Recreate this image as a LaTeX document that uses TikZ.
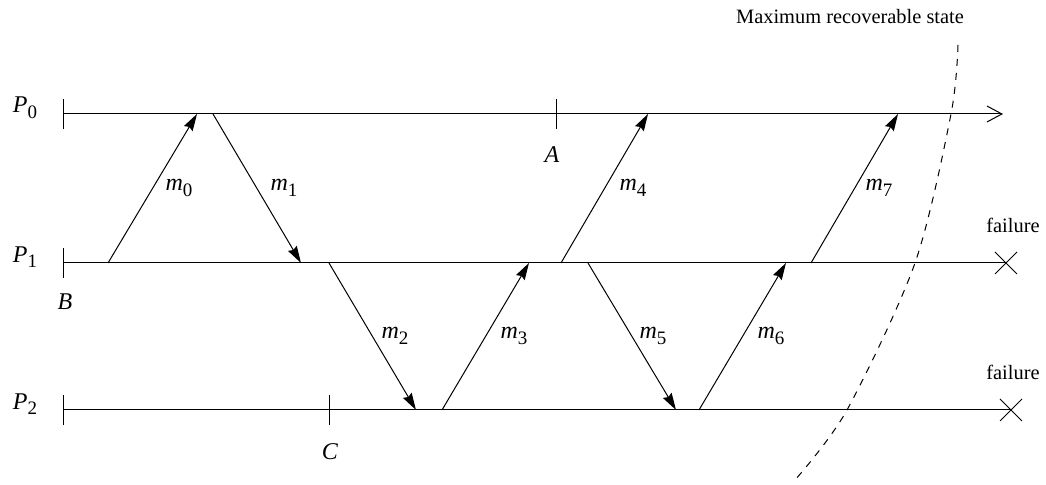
\documentclass[tikz,border=0pt]{standalone}
\usepackage{fontspec}
\setmainfont{Liberation Serif}
\usetikzlibrary{arrows.meta}
\newcommand\lsub[1]{\raisebox{-2.8pt}{\fontsize{9.5}{9.5}\selectfont #1}}
\newcommand\mlab[1]{\textit{m}\lsub{#1}}
\newcommand\plab[1]{\textit{P}\lsub{#1}}
\begin{document}
\begin{tikzpicture}[x=0.5pt,y=-0.5pt,
  line width=0.5pt,
  msgarrow/.style={draw,-{Stealth[length=8.5pt,width=5pt,inset=1pt]}},
  mathlab/.style={inner sep=0pt,font=\fontsize{12}{12}\selectfont},
  txtlab/.style={inner sep=0pt,font=\fontsize{10.2}{12}\selectfont},
  tickmark/.style={draw}]
\useasboundingbox (0,0) rectangle (1046,485);
% process lines
\coordinate (p0s) at (63,114); \coordinate (p0e) at (1003,114);
\coordinate (p1s) at (63,263); \coordinate (p1e) at (1006,263);
\coordinate (p2s) at (63,410); \coordinate (p2e) at (1011,410);
\draw[-{Straight Barb[length=7.5pt,width=8pt]}] (p0s) -- (p0e);
\draw (p1s) -- (p1e);
\draw (p2s) -- (p2e);
% start ticks
\foreach \c in {p0s,p1s,p2s}{
  \draw[tickmark] ([yshift=7.5pt]\c) -- ([yshift=-7.5pt]\c);
}
% checkpoint ticks
\coordinate (tA) at (556,114);
\coordinate (tC) at (329,410);
\draw[tickmark] ([yshift=7.5pt]tA) -- ([yshift=-7.5pt]tA);
\draw[tickmark] ([yshift=7.5pt]tC) -- ([yshift=-7.5pt]tC);
% failure crosses
\foreach \c in {p1e,p2e}{
  \draw ([shift={(-11,-11)}]\c) -- ([shift={(11,11)}]\c);
  \draw ([shift={(-11,11)}]\c) -- ([shift={(11,-11)}]\c);
}
% messages
\coordinate (m0s) at (108,263); \coordinate (m0e) at (197,114);
\coordinate (m1s) at (213,114); \coordinate (m1e) at (301,263);
\coordinate (m2s) at (329,263); \coordinate (m2e) at (416,410);
\coordinate (m3s) at (442,410); \coordinate (m3e) at (529,263);
\coordinate (m4s) at (561,263); \coordinate (m4e) at (648,114);
\coordinate (m5s) at (588,263); \coordinate (m5e) at (676,410);
\coordinate (m6s) at (699,410); \coordinate (m6e) at (786,263);
\coordinate (m7s) at (811,263); \coordinate (m7e) at (898,114);
\foreach \i in {0,...,7}{
  \draw[msgarrow] (m\i s) -- (m\i e);
}
% message labels
\node[mathlab] (lm0) at (179,188) {\mlab{0}};
\node[mathlab] (lm1) at (284,188) {\mlab{1}};
\node[mathlab] (lm2) at (395,336) {\mlab{2}};
\node[mathlab] (lm3) at (514,336) {\mlab{3}};
\node[mathlab] (lm4) at (633,188) {\mlab{4}};
\node[mathlab] (lm5) at (653,336) {\mlab{5}};
\node[mathlab] (lm6) at (771,336) {\mlab{6}};
\node[mathlab] (lm7) at (879,188) {\mlab{7}};
% process labels
\node[mathlab] (lp0) at (25,108) {\plab{0}};
\node[mathlab] (lp1) at (25,257) {\plab{1}};
\node[mathlab] (lp2) at (25,404) {\plab{2}};
% checkpoint labels
\node[mathlab] (lA) at (552,155) {\textit{A}};
\node[mathlab] (lB) at (65,302) {\textit{B}};
\node[mathlab] (lC) at (330,452) {\textit{C}};
% text labels
\node[txtlab] (f1) at (1013,225) {failure};
\node[txtlab] (f2) at (1013,372) {failure};
\node[txtlab] (mrs) at (850,17) {Maximum recoverable state};
% recovery line
\draw[dash pattern=on 3.5pt off 3.5pt] plot[smooth] coordinates {(958,45) (951,114) (915,263) (847,410) (795,480)};
\end{tikzpicture}
\end{document}
